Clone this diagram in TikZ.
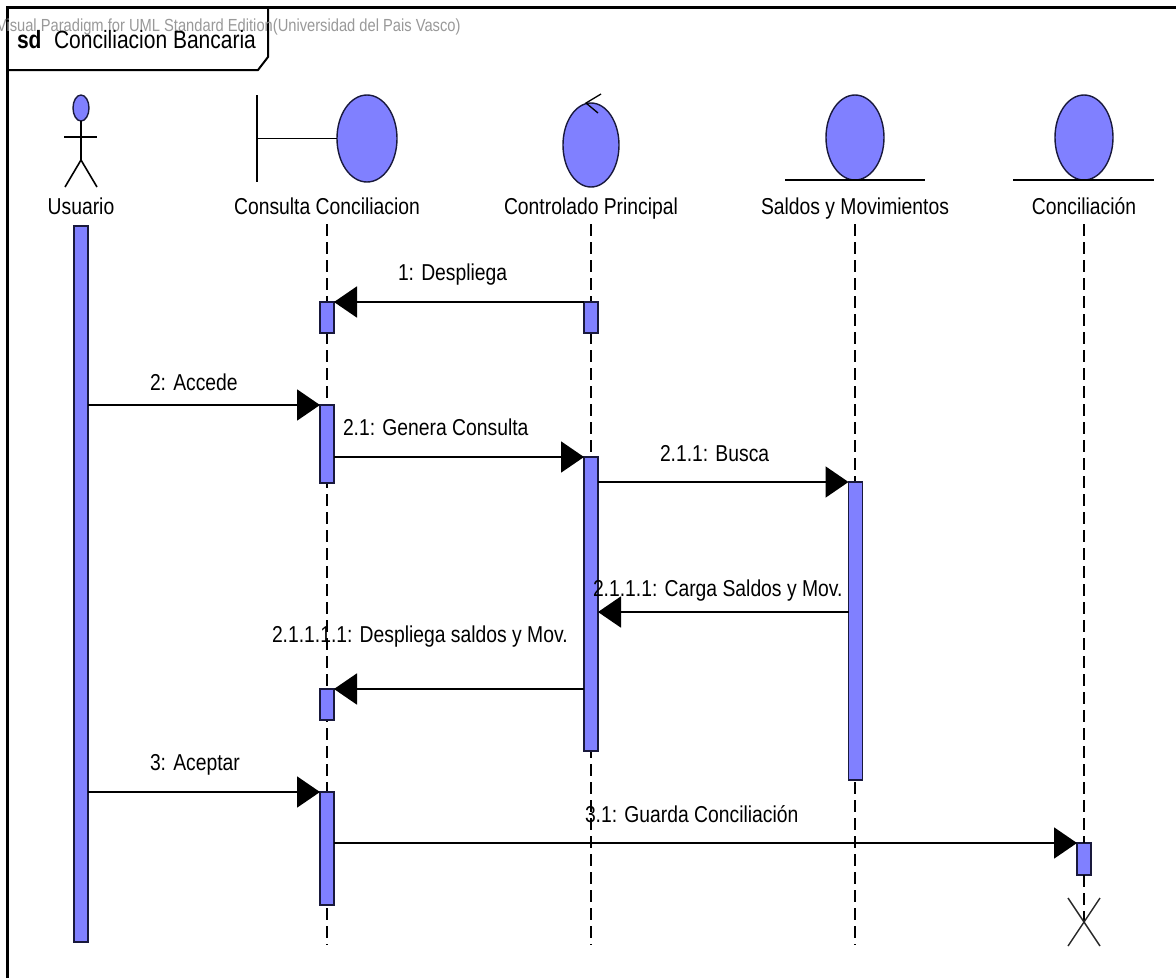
\documentclass[tikz,border=0pt]{standalone}
\usepackage{fontspec}
\setmainfont{Liberation Sans}[FakeStretch=0.84]
\usetikzlibrary{arrows.meta,shapes.geometric}
\definecolor{vpfill}{RGB}{128,128,255}
\definecolor{vpline}{RGB}{25,25,60}
\begin{document}
\begin{tikzpicture}[x=1pt,y=-1pt,
  every node/.style={inner sep=0pt, outer sep=0pt},
  icon/.style={draw=vpline, fill=vpfill, line width=1.4pt},
  bar/.style={draw=vpline, fill=vpfill, line width=1.3pt, rectangle, minimum width=14pt},
  lifeln/.style={dash pattern=on 12pt off 6pt, line width=1.5pt},
  msg/.style={line width=2pt, -{Triangle[length=23pt,width=31pt]}},
  stick/.style={line width=1.6pt},
  lbl/.style={font=\fontsize{23}{27}\selectfont, anchor=base},
  mlbl/.style={font=\fontsize{23}{27}\selectfont, anchor=base west}]
\useasboundingbox (0,0) rectangle (1176,978);
\fill[white] (0,0) rectangle (1176,978);

% frame
\draw[line width=3pt] (7,978) -- (7,7.5) -- (1176,7.5);
\draw[line width=2pt] (7,70) -- (258,70) -- (268,57) -- (268,7.5);
\node[font=\fontsize{17.5}{20}\selectfont, text=black!40, anchor=base west] (wm) at (-3,31) {Visual Paradigm for UML Standard Edition(Universidad del Pais Vasco)};
\node[font=\fontsize{25}{30}\selectfont\bfseries, anchor=base west] (sd) at (17,48) {sd};
\node[font=\fontsize{25}{30}\selectfont, anchor=base west] (title) at (54,48) {Conciliacion Bancaria};

% heads
% actor
\node[icon, ellipse, minimum width=16pt, minimum height=26pt] (head) at (81,108) {};
\coordinate (neck) at (81,121);
\coordinate (hip) at (81,160);
\draw[stick] (neck) -- (hip);
\draw[stick] (hip) -- ++(-16,27);
\draw[stick] (hip) -- ++(16,27);
\draw[stick] (64,137) -- (97,137);
\node[lbl] (lu) at (81,214) {Usuario};

% boundary
\node[icon, ellipse, minimum width=60pt, minimum height=87pt] (bcirc) at (367,138.5) {};
\draw[stick] (257,95) -- (257,182);
\draw[stick] (257,138.5) -- (bcirc.west);
\node[lbl] (lcc) at (327,214) {Consulta Conciliacion};

% control
\node[icon, ellipse, minimum width=56pt, minimum height=84pt] (ccirc) at (591,145) {};
\draw[line width=1.3pt] (601,94) -- (586,103) -- (598,113);
\node[lbl] (lcp) at (591,214) {Controlado Principal};

% entity saldos
\node[icon, ellipse, minimum width=58pt, minimum height=85pt] (scirc) at (855,137.5) {};
\draw[line width=2pt] (785,180) -- (925,180);
\node[lbl] (lsm) at (855,214) {Saldos y Movimientos};

% entity conciliacion
\node[icon, ellipse, minimum width=58pt, minimum height=85pt] (kcirc) at (1084,137.5) {};
\draw[line width=2pt] (1013,180) -- (1154,180);
\node[lbl] (lco) at (1084,214) {Conciliación};

% lifelines
\coordinate (ltop) at (0,224);
\coordinate (lbot) at (0,945);
\draw[lifeln] (lcc |- ltop) -- (lcc |- lbot);
\draw[lifeln] (lcp |- ltop) -- (lcp |- lbot);
\draw[lifeln] (lsm |- ltop) -- (lsm |- lbot);

% activation bars
\node[bar, minimum height=716pt] (ub) at (81,584) {};
\node[bar, minimum height=31pt] (cb1) at (327,317.5) {};
\node[bar, minimum height=78pt] (cb2) at (327,444) {};
\node[bar, minimum height=31pt] (cb3) at (327,704.5) {};
\node[bar, minimum height=113pt] (cb4) at (327,848.5) {};
\node[bar, minimum height=31pt] (pb1) at (591,317.5) {};
\node[bar, minimum height=294pt] (pb2) at (591,604) {};
\node[bar, minimum height=298pt] (sb) at (855.5,631) {};
\node[bar, minimum height=32pt] (kb) at (1084,859) {};
\node (xdes) at (1084,922) {};
\draw[lifeln] (lco |- ltop) -- (kb.north);
\draw[lifeln] (kb.south) -- (xdes.center);
\draw[line width=1.4pt, black!85] (xdes.center) +(-16,-24) -- +(16,24);
\draw[line width=1.4pt, black!85] (xdes.center) +(16,-24) -- +(-16,24);

% messages
\coordinate (m5) at (0,612);
\draw[msg] (pb1.north west) -- (cb1.north east);
\draw[msg] (ub.east |- cb2.north) -- (cb2.north west);
\draw[msg] (cb2.east |- pb2.north) -- (pb2.north west);
\draw[msg] (pb2.east |- sb.north) -- (sb.north west);
\draw[msg] (sb.west |- m5) -- (pb2.east |- m5);
\draw[msg] (pb2.west |- cb3.north) -- (cb3.north east);
\draw[msg] (ub.east |- cb4.north) -- (cb4.north west);
\draw[msg] (cb4.east |- kb.north) -- (kb.north west);

% message labels
\node[mlbl] (t1) at (398,280) {1: Despliega};
\node[mlbl] (t2) at (150,390) {2: Accede};
\node[mlbl] (t21) at (343,435) {2.1: Genera Consulta};
\node[mlbl] (t211) at (660,461) {2.1.1: Busca};
\node[mlbl] (t2111) at (593,596) {2.1.1.1: Carga Saldos y Mov.};
\node[mlbl] (t21111) at (272,642) {2.1.1.1.1: Despliega saldos y Mov.};
\node[mlbl] (t3) at (150,770) {3: Aceptar};
\node[mlbl] (t31) at (585,822) {3.1: Guarda Conciliación};
\end{tikzpicture}
\end{document}
